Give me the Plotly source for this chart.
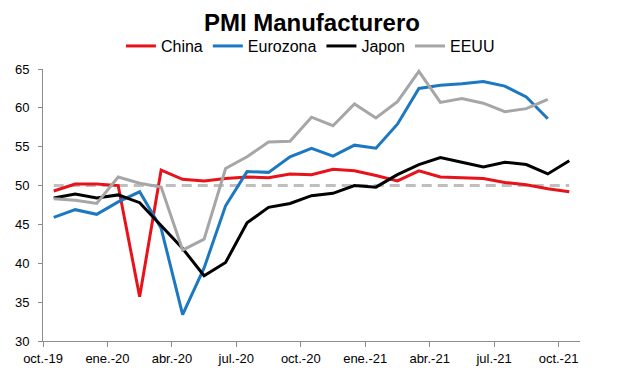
import plotly.graph_objects as go

months = ["oct.-19", "nov.-19", "dic.-19", "ene.-20", "feb.-20", "mar.-20", "abr.-20",
          "may.-20", "jun.-20", "jul.-20", "ago.-20", "sep.-20", "oct.-20", "nov.-20",
          "dic.-20", "ene.-21", "feb.-21", "mar.-21", "abr.-21", "may.-21", "jun.-21",
          "jul.-21", "ago.-21", "sep.-21", "oct.-21"]

china = [49.3, 50.2, 50.2, 50.0, 35.7, 52.0, 50.8, 50.6, 50.9, 51.1, 51.0, 51.5, 51.4,
         52.1, 51.9, 51.3, 50.6, 51.9, 51.1, 51.0, 50.9, 50.4, 50.1, 49.6, 49.2]
eurozona = [45.9, 46.9, 46.3, 47.9, 49.2, 44.5, 33.4, 39.4, 47.4, 51.8, 51.7, 53.7, 54.8,
            53.8, 55.2, 54.8, 57.9, 62.5, 62.9, 63.1, 63.4, 62.8, 61.4, 58.6]
japon = [48.4, 48.9, 48.4, 48.8, 47.8, 44.8, 41.9, 38.4, 40.1, 45.2, 47.2, 47.7, 48.7,
         49.0, 50.0, 49.8, 51.4, 52.7, 53.6, 53.0, 52.4, 53.0, 52.7, 51.5, 53.2]
eeuu = [48.3, 48.1, 47.7, 51.1, 50.3, 49.8, 41.7, 43.1, 52.2, 53.7, 55.6, 55.7, 58.8,
        57.7, 60.5, 58.7, 60.8, 64.7, 60.7, 61.2, 60.6, 59.5, 59.9, 61.1]

NEUTRAL = 50
y_ticks = [30, 35, 40, 45, 50, 55, 60, 65]

series = [
    ("China", china, "#E8121A"),
    ("Eurozona", eurozona, "#1C78C0"),
    ("Japon", japon, "#000000"),
    ("EEUU", eeuu, "#A6A6A6"),
]

fig = go.Figure()
fig.add_trace(go.Scatter(
    x=[0, len(months) - 1], y=[NEUTRAL, NEUTRAL], mode="lines",
    line=dict(color="#BFBFBF", width=3, dash="10px,6px"),
    showlegend=False, hoverinfo="skip"))

for name, vals, color in series:
    fig.add_trace(go.Scatter(
        x=list(range(len(vals))), y=vals, mode="lines", name=name,
        line=dict(color=color, width=3)))

tick_idx = list(range(0, len(months), 3))
fig.update_layout(
    width=609, height=373,
    margin=dict(l=35, r=37, t=61, b=40, autoexpand=False),
    paper_bgcolor="white", plot_bgcolor="white",
    font=dict(family="Liberation Sans, Arial, sans-serif", color="#000000"),
    title=dict(text="<b>PMI Manufacturero</b>", x=0.499, xanchor="center",
               yref="container", y=0.962, yanchor="middle",
               font=dict(size=24, color="#000000")),
    legend=dict(orientation="h", x=0.498, xanchor="center",
                yref="container", y=0.898, yanchor="middle",
                font=dict(size=16), itemwidth=30, tracegroupgap=0,
                bgcolor="rgba(0,0,0,0)"),
    xaxis=dict(range=[-0.5, len(months) - 0.5], tickvals=[i - 0.5 for i in tick_idx],
               ticktext=[months[i] for i in tick_idx], showline=True,
               linecolor="#8C8C8C", linewidth=1, ticks="outside", ticklen=5,
               tickcolor="#8C8C8C", showgrid=False, zeroline=False,
               tickfont=dict(size=13)),
    yaxis=dict(range=[30, 65], tickvals=y_ticks, showline=True, linecolor="#8C8C8C",
               linewidth=1, ticks="outside", ticklen=4, tickcolor="#8C8C8C",
               showgrid=False, zeroline=False, tickfont=dict(size=13),
               ticklabelstandoff=6),
)

fig.write_html("out.html")
